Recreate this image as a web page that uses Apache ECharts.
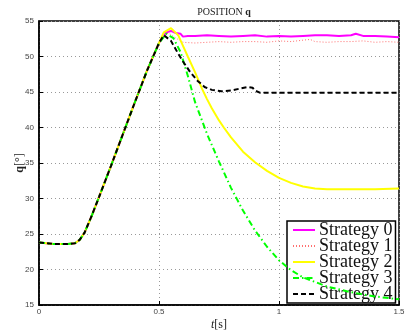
<!DOCTYPE html>
<html>
<head>
<meta charset="utf-8">
<script src="https://cdn.jsdelivr.net/npm/echarts@6/dist/echarts.min.js"></script>
<style>
  html, body { margin: 0; padding: 0; background: #fff; }
  #chart { width: 407px; height: 334px; }
</style>
</head>
<body>
<div id="chart"></div>
<script>
// Shared start-up phase: all strategies hold ~23.7° then ramp up together
const riseT = [0, 0.03, 0.06, 0.09, 0.12, 0.15, 0.17, 0.19, 0.22, 0.25, 0.3, 0.35, 0.4, 0.45, 0.5];
const riseV = [23.8, 23.7, 23.6, 23.6, 23.6, 23.7, 24.2, 25.2, 27.6, 30.2, 34.6, 39.1, 43.6, 48.0, 51.9];

// Behaviour after the peak, per strategy
const s0T = [0.53, 0.55, 0.57, 0.59, 0.6, 0.62, 0.65, 0.7, 0.75, 0.8, 0.85, 0.9, 0.95, 1.0, 1.05, 1.1, 1.15, 1.2, 1.25, 1.3, 1.32, 1.35, 1.4, 1.45, 1.5];
const s0V = [53.4, 53.6, 53.3, 53.2, 52.8, 52.9, 52.9, 53.0, 52.9, 52.8, 52.9, 53.0, 52.8, 52.9, 52.8, 52.9, 53.0, 53.0, 52.9, 53.0, 53.2, 52.9, 52.9, 52.8, 52.7];

const s1T = [0.53, 0.54, 0.57, 0.6, 0.65, 0.7, 0.75, 0.8, 0.85, 0.9, 0.95, 1.0, 1.05, 1.1, 1.13, 1.15, 1.2, 1.25, 1.3, 1.35, 1.4, 1.45, 1.5];
const s1V = [53.2, 53.3, 52.6, 52.0, 51.9, 52.0, 52.1, 52.0, 52.1, 52.1, 52.0, 52.2, 52.1, 52.3, 52.4, 52.1, 52.0, 52.1, 52.1, 52.2, 52.0, 52.1, 52.0];

const s2T = [0.52, 0.55, 0.58, 0.6, 0.62, 0.65, 0.68, 0.7, 0.72, 0.75, 0.77, 0.8, 0.85, 0.9, 0.95, 1.0, 1.05, 1.1, 1.15, 1.2, 1.3, 1.4, 1.5];
const s2V = [53.4, 54.0, 53.0, 51.5, 50.0, 47.8, 45.4, 44.0, 42.7, 41.0, 40.0, 38.6, 36.6, 35.1, 33.9, 32.9, 32.2, 31.7, 31.4, 31.3, 31.3, 31.3, 31.4];

const s3T = [0.53, 0.56, 0.59, 0.62, 0.65, 0.7, 0.75, 0.8, 0.85, 0.9, 0.95, 1.0, 1.05, 1.1, 1.2, 1.3, 1.4, 1.5];
const s3V = [53.2, 52.6, 50.6, 47.3, 43.6, 39.1, 35.2, 31.5, 28.3, 25.5, 23.2, 21.3, 19.9, 18.9, 17.6, 16.8, 16.2, 15.8];

const s4T = [0.52, 0.55, 0.58, 0.6, 0.63, 0.66, 0.69, 0.72, 0.76, 0.8, 0.84, 0.87, 0.89, 0.9, 0.92, 1.0, 1.1, 1.2, 1.3, 1.4, 1.5];
const s4V = [53.0, 52.2, 50.4, 49.3, 47.8, 46.6, 45.7, 45.3, 45.1, 45.2, 45.5, 45.7, 45.6, 45.2, 44.9, 44.9, 44.9, 44.9, 44.9, 44.9, 44.9];

const names = ['Strategy 0', 'Strategy 1', 'Strategy 2', 'Strategy 3', 'Strategy 4'];
const xTicks = [0, 0.5, 1, 1.5];
const yRange = [15, 55];

function curve(tt, vv) {
  const pts = riseT.map((t, i) => [t, riseV[i]]);
  tt.forEach((t, i) => pts.push([t, vv[i]]));
  return pts;
}

const styles = [
  { color: '#ff00ff', width: 2, type: 'solid' },
  { color: '#ff7070', width: 1, type: [1, 2] },
  { color: '#ffff00', width: 2, type: 'solid' },
  { color: '#00ff00', width: 2, type: [6, 3, 1.5, 3] },
  { color: '#000000', width: 2, type: [5, 3] }
];
const tails = [[s0T, s0V], [s1T, s1V], [s2T, s2V], [s3T, s3V], [s4T, s4V]];

const chart = echarts.init(document.getElementById('chart'));
chart.setOption({
  animation: false,
  backgroundColor: '#fff',
  title: {
    text: '{n|POSITION }{b|q}',
    left: 219, top: 2, textAlign: 'center',
    textStyle: {
      fontWeight: 'normal',
      rich: {
        n: { fontFamily: 'Liberation Serif', fontSize: 10, fontWeight: 'normal', color: '#222' },
        b: { fontFamily: 'Liberation Serif', fontSize: 10, fontWeight: 'bold', color: '#222' }
      }
    }
  },
  grid: { left: 39, right: 8, top: 21, bottom: 29, outerBoundsMode: 'none', containLabel: false,
    show: true, borderColor: '#000', borderWidth: 1.5, backgroundColor: 'transparent' },
  legend: {
    orient: 'vertical',
    left: 287, top: 221,
    data: names,
    itemWidth: 22, itemHeight: 14, itemGap: -2,
    padding: [0, 3, 0, 5],
    itemStyle: { opacity: 0 },
    backgroundColor: '#fff', borderColor: '#000', borderWidth: 1.5, borderRadius: 0,
    textStyle: { fontFamily: 'Liberation Serif', fontSize: 18, color: '#111', padding: [0, 0, 0, -1] }
  },
  xAxis: {
    type: 'value', min: 0, max: 1.5, interval: 0.5,
    name: '{i|t}{n|[s]}', nameLocation: 'middle', nameGap: 14, nameMoveOverlap: false,
    nameTextStyle: {
      rich: {
        i: { fontFamily: 'Liberation Serif', fontSize: 12, fontStyle: 'italic', color: '#222' },
        n: { fontFamily: 'Liberation Serif', fontSize: 12, color: '#222' }
      }
    },
    axisLine: { lineStyle: { color: '#000', width: 1.5 } },
    axisTick: { inside: true, length: 4, lineStyle: { color: '#000' } },
    axisLabel: { fontFamily: 'Liberation Sans', fontSize: 8, color: '#444', margin: 3,
      formatter: v => (xTicks.indexOf(v) >= 0 ? String(v) : '') },
    splitLine: { show: true, lineStyle: { color: '#999', type: [1, 3], width: 1 } }
  },
  yAxis: {
    type: 'value', min: yRange[0], max: yRange[1], interval: 5,
    name: '{b|q}{n|[°]}', nameLocation: 'middle', nameGap: 13, nameRotate: 90, nameMoveOverlap: false,
    nameTextStyle: {
      rich: {
        b: { fontFamily: 'Liberation Serif', fontSize: 12, fontWeight: 'bold', color: '#222' },
        n: { fontFamily: 'Liberation Serif', fontSize: 12, color: '#222' }
      }
    },
    axisLine: { lineStyle: { color: '#000', width: 1.5 } },
    axisTick: { inside: true, length: 4, lineStyle: { color: '#000' } },
    axisLabel: { fontFamily: 'Liberation Sans', fontSize: 8, color: '#444', margin: 5 },
    splitLine: { show: true, lineStyle: { color: '#999', type: [1, 3], width: 1 } }
  },
  series: names.map((n, k) => ({
    name: n, type: 'line', symbol: 'none', smooth: false,
    data: curve(tails[k][0], tails[k][1]),
    lineStyle: { color: styles[k].color, width: styles[k].width, type: styles[k].type },
    itemStyle: { color: styles[k].color },
    z: 2 + k
  }))
});
</script>
</body>
</html>
